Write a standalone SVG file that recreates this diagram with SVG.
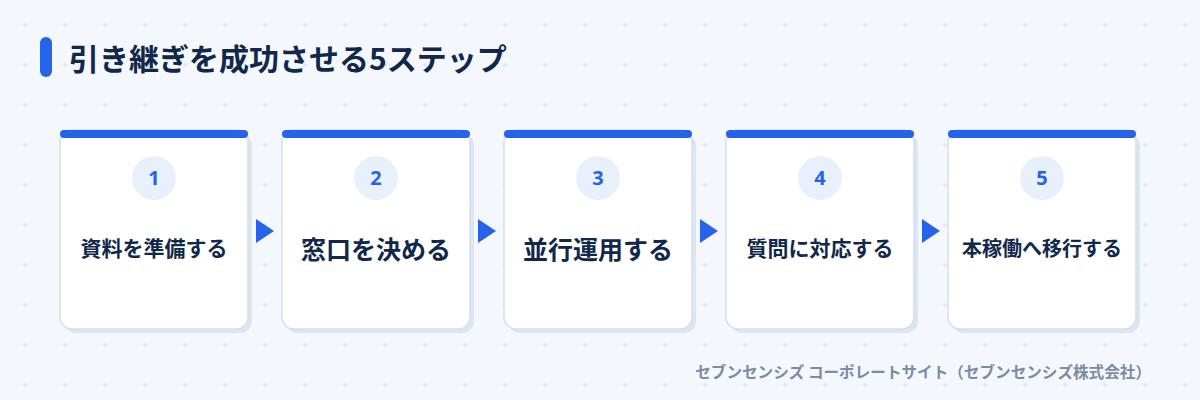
<svg xmlns="http://www.w3.org/2000/svg" width="1200" height="400" viewBox="0 0 1200 400">
<defs>
<pattern id="grid" x="0" y="0" width="40" height="40" patternUnits="userSpaceOnUse">
<path d="M25 22.5V27.5M22.5 25H27.5" stroke="#dbe3ee" stroke-width="1"/>
</pattern>
<g id="card">
<rect x="4" y="4" width="188" height="199" rx="12" fill="#dce5f1"/>
<rect x="0" y="0" width="188" height="199" rx="12" fill="#ffffff" stroke="#d3dfee" stroke-width="1.5"/>
<rect x="0" y="0" width="188" height="8" rx="4" fill="#2563eb"/>
<circle cx="94" cy="48" r="22" fill="#e8f0fc"/>
</g>
</defs>
<style>
.t{font-family:"Noto Sans CJK JP","Noto Sans",sans-serif;font-weight:700;fill:#11284a}
.num{font-family:"Noto Sans","Noto Sans CJK JP",sans-serif;font-weight:700;fill:#2563eb;font-size:20px;text-anchor:middle}
.lbl{text-anchor:middle}
.arr{fill:#2563eb}
</style>
<rect width="1200" height="400" fill="#f4f7fc"/>
<rect width="1200" height="400" fill="url(#grid)"/>
<g id="title">
<rect x="40" y="37" width="12" height="40" rx="6" fill="#2563eb"/>
<text class="t" x="69" y="70" font-size="30">引き継ぎを成功させる5ステップ</text>
</g>
<g id="connectors">
<polygon class="arr" points="256,219 274,231 256,243"/>
<polygon class="arr" points="478,219 496,231 478,243"/>
<polygon class="arr" points="700,219 718,231 700,243"/>
<polygon class="arr" points="922,219 940,231 922,243"/>
</g>
<g id="step1" transform="translate(60,130)">
<use href="#card"/>
<text class="num" x="94" y="55">1</text>
<text class="t lbl" x="94" y="126" font-size="21">資料を準備する</text>
</g>
<g id="step2" transform="translate(282,130)">
<use href="#card"/>
<text class="num" x="94" y="55">2</text>
<text class="t lbl" x="94" y="129" font-size="25">窓口を決める</text>
</g>
<g id="step3" transform="translate(504,130)">
<use href="#card"/>
<text class="num" x="94" y="55">3</text>
<text class="t lbl" x="94" y="129" font-size="25">並行運用する</text>
</g>
<g id="step4" transform="translate(726,130)">
<use href="#card"/>
<text class="num" x="94" y="55">4</text>
<text class="t lbl" x="94" y="126" font-size="21">質問に対応する</text>
</g>
<g id="step5" transform="translate(948,130)">
<use href="#card"/>
<text class="num" x="94" y="55">5</text>
<text class="t lbl" x="94" y="126" font-size="20">本稼働へ移行する</text>
</g>
<g id="footer">
<text x="1151" y="378" font-family="Noto Sans CJK JP, sans-serif" font-weight="700" font-size="15.6" fill="#7d8ba3" text-anchor="end">セブンセンシズ コーポレートサイト（セブンセンシズ株式会社）</text>
</g>
</svg>
